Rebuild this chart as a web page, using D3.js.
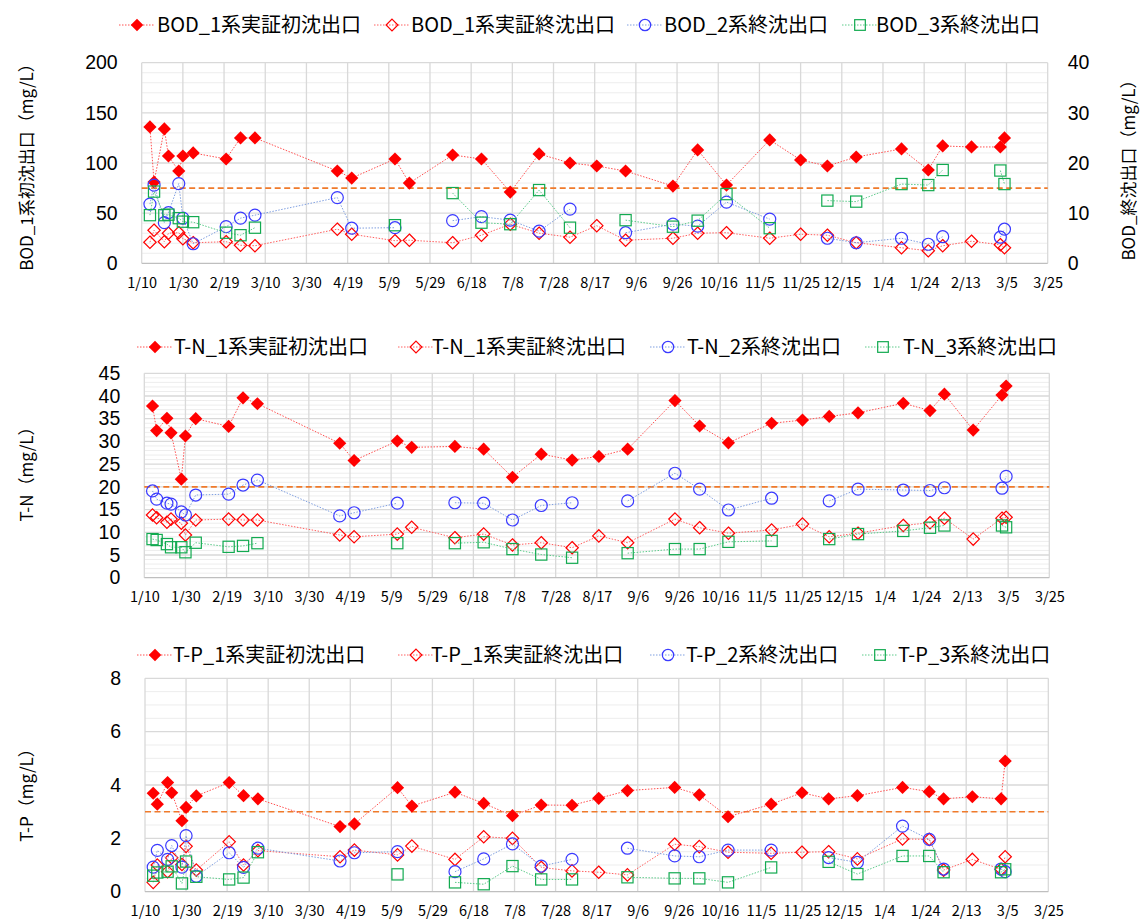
<!DOCTYPE html>
<html><head><meta charset="utf-8">
<script src="https://cdn.jsdelivr.net/npm/d3@7"></script>
<style>body{margin:0;background:#fff} svg{display:block}</style>
</head><body><svg id="c" width="1142" height="920"></svg>
<script>
// ---------- data ----------
const sampleDates = ["2020-01-14","2020-01-16","2020-01-21","2020-01-23","2020-01-28","2020-01-30","2020-02-04",
  "2020-02-20","2020-02-27","2020-03-05","2020-04-14","2020-04-21","2020-05-12","2020-05-19","2020-06-09",
  "2020-06-23","2020-07-07","2020-07-21","2020-08-05","2020-08-18","2020-09-01","2020-09-24","2020-10-06",
  "2020-10-20","2020-11-10","2020-11-25","2020-12-08","2020-12-22","2021-01-13","2021-01-26","2021-02-02",
  "2021-02-16","2021-03-02","2021-03-04"];
const xStart = "2020-01-10";
const xEnd = "2021-03-25";
const xTickLabels = ["1/10","1/30","2/19","3/10","3/30","4/19","5/9","5/29","6/18","7/8","7/28","8/17",
  "9/6","9/26","10/16","11/5","11/25","12/15","1/4","1/24","2/13","3/5","3/25"];

// BOD
const bodInitial1 = [136,81,134,107,92,107,110,104,125,125,92,85,104,80,108,104,71,109,100,97,92,77,113,78,123,103,97,106,114,93,117,116,116,125];
const bodFinal1 = [4.2,6.6,4.3,6.0,6.1,4.9,4.1,4.3,3.6,3.5,6.8,5.8,4.5,4.6,4.1,5.6,7.8,6.0,5.2,7.5,4.6,5.0,6.0,6.1,5.0,5.8,5.6,4.1,3.1,2.5,3.5,4.4,3.7,3.1];
const bodFinal2 = [11.8,15.6,8.1,10.1,15.9,9.0,3.9,7.3,9.0,9.6,13.1,7.0,7.1,null,8.5,9.3,8.6,6.4,10.8,null,6.1,7.8,7.4,12.2,8.8,null,5.0,4.1,5.0,3.8,5.3,null,5.2,6.8];
const bodFinal3 = [9.6,14.3,9.6,9.7,9.0,8.3,8.2,6.1,5.6,7.1,null,null,7.6,null,14.0,8.1,7.8,14.6,7.1,null,8.6,7.3,8.5,13.8,7.0,null,12.5,12.3,15.8,15.6,18.6,null,18.5,15.8];
// T-N
const tnInitial1 = [37.8,32.4,35.1,31.9,21.7,31.2,35.0,33.3,39.6,38.3,29.6,25.8,30.1,28.7,28.9,28.3,22.1,27.2,25.9,26.7,28.3,39.0,33.4,29.7,34.0,34.7,35.5,36.3,38.4,36.8,40.4,32.5,40.2,42.2];
const tnFinal1 = [13.8,13.2,12.2,12.9,12.0,9.4,12.7,12.9,12.7,12.7,9.4,9.0,9.6,11.1,8.8,9.6,7.2,7.7,6.6,9.2,7.7,12.9,11.0,9.8,10.5,11.8,9.0,9.8,11.5,12.1,13.1,8.5,13.1,13.3];
const tnFinal2 = [19.1,17.3,16.4,16.2,14.5,13.8,18.2,18.4,20.4,21.5,13.6,14.3,16.4,null,16.5,16.4,12.7,15.9,16.5,null,16.9,23.0,19.5,14.9,17.5,null,16.9,19.5,19.3,19.2,19.8,null,19.7,22.3];
const tnFinal3 = [8.5,8.3,7.4,6.7,6.7,5.6,7.7,6.8,7.0,7.6,null,null,7.6,null,7.6,7.8,6.3,5.1,4.4,null,5.4,6.3,6.3,7.9,8.1,null,8.5,9.6,10.3,11.0,11.5,null,11.5,11.1];
// T-P
const tpInitial1 = [3.69,3.28,4.09,3.71,2.66,3.16,3.59,4.09,3.6,3.48,2.44,2.54,3.9,3.21,3.73,3.31,2.85,3.25,3.24,3.5,3.79,3.91,3.63,2.81,3.28,3.71,3.48,3.6,3.91,3.75,3.48,3.56,3.48,4.9];
const tpFinal1 = [0.35,1.0,0.75,1.27,1.02,1.7,0.81,1.87,1.0,1.54,1.31,1.56,1.38,1.71,1.21,2.06,2.0,0.91,0.78,0.73,0.63,1.78,1.69,1.48,1.44,1.48,1.5,1.23,1.98,1.96,0.81,1.21,0.84,1.31];
const tpFinal2 = [0.92,1.55,1.21,1.73,0.92,2.1,0.58,1.46,0.91,1.63,1.15,1.46,1.5,null,0.75,1.23,1.79,0.96,1.21,null,1.63,1.34,1.31,1.56,1.56,null,1.28,1.1,2.46,1.96,0.85,null,0.85,0.75];
const tpFinal3 = [0.6,0.72,0.75,0.95,0.31,1.13,0.56,0.46,0.53,1.48,null,null,0.65,null,0.35,0.28,0.96,0.46,0.46,null,0.54,0.5,0.5,0.35,0.91,null,1.12,0.66,1.34,1.34,0.73,null,0.73,0.84];

const bodNames = ["BOD_1系実証初沈出口","BOD_1系実証終沈出口","BOD_2系終沈出口","BOD_3系終沈出口"];
const tnNames = ["T-N_1系実証初沈出口","T-N_1系実証終沈出口","T-N_2系終沈出口","T-N_3系終沈出口"];
const tpNames = ["T-P_1系実証初沈出口","T-P_1系実証終沈出口","T-P_2系終沈出口","T-P_3系終沈出口"];

const bodLeftTicks = [0,50,100,150,200];
const bodRightTicks = [0,10,20,30,40];
const tnTicks = [0,5,10,15,20,25,30,35,40,45];
const tpTicks = [0,2,4,6,8];

const bodLeftTitle = "BOD_1系初沈出口（mg/L）";
const bodRightTitle = "BOD_終沈出口（mg/L）";
const tnTitle = "T-N（mg/L）";
const tpTitle = "T-P（mg/L）";

const bodLimit = 75, tnLimit = 20, tpLimit = 3;

// ---------- drawing ----------
const FONT = "'Noto Sans CJK JP','Noto Sans',sans-serif";
const NUMFONT = "'Liberation Sans',Arial,sans-serif";
const svg = d3.select("#c");
const parse = d3.utcParse("%Y-%m-%d");
const dates = sampleDates.map(parse);
const x0 = parse(xStart), x1 = parse(xEnd);
const xTickVals = xTickLabels.map((_, i) => d3.utcDay.offset(x0, 20 * i));

const styles = [
  {shape:"diamondFilled", color:"#FF0000", line:"#FF5050"},
  {shape:"diamond", color:"#FF0000", line:"#FF6060"},
  {shape:"circle", color:"#3A3AFF", line:"#7F9FE0"},
  {shape:"square", color:"#12AA50", line:"#5CCB8A"}
];

function marker(g, shape, color, cx, cy, s) {
  s = s || 1;
  if (shape === "diamondFilled") {
    const h = 6.6 * s;
    g.append("path").attr("d", `M${cx},${cy-h}L${cx+h},${cy}L${cx},${cy+h}L${cx-h},${cy}Z`).attr("fill", color);
  } else if (shape === "diamond") {
    const h = 6.2 * s;
    g.append("path").attr("d", `M${cx},${cy-h}L${cx+h},${cy}L${cx},${cy+h}L${cx-h},${cy}Z`)
      .attr("fill", "none").attr("stroke", color).attr("stroke-width", 1.2);
  } else if (shape === "circle") {
    g.append("circle").attr("cx", cx).attr("cy", cy).attr("r", 6 * s)
      .attr("fill", "none").attr("stroke", color).attr("stroke-width", 1.2);
  } else {
    const h = 5.6 * s;
    g.append("rect").attr("x", cx - h).attr("y", cy - h).attr("width", 2 * h).attr("height", 2 * h)
      .attr("fill", "none").attr("stroke", color).attr("stroke-width", 1.2);
  }
}

const panels = [
  {box:{l:141.7,r:1047.7,t:62.7,b:263.3}, left:{ticks:bodLeftTicks, minor:10}, right:{ticks:bodRightTicks},
   series:[bodInitial1,bodFinal1,bodFinal2,bodFinal3], axisOf:["L","R","R","R"], names:bodNames, limit:bodLimit,
   title:bodLeftTitle, titleCy:163, rTitle:bodRightTitle, rTitleCy:166,
   legendY:25, legendMx:[137,392,645,860], legendTx:[157,411,664,876]},
  {box:{l:144.3,r:1049.3,t:373.3,b:577.7}, left:{ticks:tnTicks, minor:1},
   series:[tnInitial1,tnFinal1,tnFinal2,tnFinal3], axisOf:["L","L","L","L"], names:tnNames, limit:tnLimit,
   title:tnTitle, titleCy:470,
   legendY:347, legendMx:[155,416,668,883], legendTx:[174,432,687,903]},
  {box:{l:145,r:1048.3,t:678.3,b:891.7}, left:{ticks:tpTicks, minor:0.5},
   series:[tpInitial1,tpFinal1,tpFinal2,tpFinal3], axisOf:["L","L","L","L"], names:tpNames, limit:tpLimit,
   title:tpTitle, titleCy:791,
   legendY:655, legendMx:[155,416,668,880], legendTx:[173,431,686,898]}
];

panels.forEach(p => {
  const B = p.box;
  const g = svg.append("g");
  const x = d3.scaleUtc().domain([x0, x1]).range([B.l, B.r]);
  const yL = d3.scaleLinear().domain(d3.extent(p.left.ticks)).range([B.b, B.t]);
  const yR = p.right ? d3.scaleLinear().domain(d3.extent(p.right.ticks)).range([B.b, B.t]) : yL;

  // minor horizontal gridlines
  const maxV = d3.max(p.left.ticks);
  const minor = d3.range(0, maxV + 1e-9, p.left.minor).filter(v => !p.left.ticks.some(t => Math.abs(t - v) < 1e-9));
  g.selectAll(".mn").data(minor).join("line")
    .attr("x1", B.l).attr("x2", B.r).attr("y1", d => yL(d)).attr("y2", d => yL(d))
    .attr("stroke", "#EDEDED").attr("stroke-width", 1);
  // vertical gridlines
  g.selectAll(".vg").data(xTickVals).join("line")
    .attr("x1", d => x(d)).attr("x2", d => x(d)).attr("y1", B.t).attr("y2", B.b)
    .attr("stroke", "#D9D9D9").attr("stroke-width", 1.3);
  // major horizontal gridlines
  g.selectAll(".mj").data(p.left.ticks).join("line")
    .attr("x1", B.l).attr("x2", B.r).attr("y1", d => yL(d)).attr("y2", d => yL(d))
    .attr("stroke", d => d === 0 ? "#BFBFBF" : "#D9D9D9").attr("stroke-width", 1.3);

  // x axis
  const xa = g.append("g").attr("transform", `translate(0,${B.b})`)
    .call(d3.axisBottom(x).tickValues(xTickVals).tickFormat((d, i) => xTickLabels[i]).tickSize(0).tickPadding(14));
  xa.select(".domain").remove();
  xa.selectAll("text").attr("font-family", FONT).attr("font-size", 14.5).attr("fill", "#000");

  // left axis
  const ya = g.append("g").attr("transform", `translate(${B.l - 24},0)`)
    .call(d3.axisLeft(yL).tickValues(p.left.ticks).tickSize(0).tickPadding(0));
  ya.select(".domain").remove();
  ya.selectAll("text").attr("font-family", NUMFONT).attr("font-size", 19.5).attr("fill", "#000");
  if (p.right) {
    const yra = g.append("g").attr("transform", `translate(${B.r + 20},0)`)
      .call(d3.axisRight(yR).tickValues(p.right.ticks).tickSize(0).tickPadding(0));
    yra.select(".domain").remove();
    yra.selectAll("text").attr("font-family", NUMFONT).attr("font-size", 19.5).attr("fill", "#000");
  }

  // limit line
  g.append("line").attr("x1", B.l).attr("x2", B.r).attr("y1", yL(p.limit)).attr("y2", yL(p.limit))
    .attr("stroke", "#F07A2A").attr("stroke-width", 1.6).attr("stroke-dasharray", "6,3.5");

  // series
  p.series.forEach((vals, si) => {
    const st = styles[si];
    const y = p.axisOf[si] === "L" ? yL : yR;
    const pts = dates.map((d, i) => ({d, v: vals[i]}));
    const line = d3.line().defined(d => d.v != null).x(d => x(d.d)).y(d => y(d.v));
    g.append("path").attr("d", line(pts)).attr("fill", "none").attr("stroke", st.line)
      .attr("stroke-width", 1).attr("stroke-dasharray", "1.5,1.5");
    const mg = g.append("g");
    pts.filter(d => d.v != null).forEach(d => marker(mg, st.shape, st.color, x(d.d), y(d.v)));
  });

  // legend
  p.names.forEach((name, i) => {
    const st = styles[i];
    const lg = g.append("g");
    const mx = p.legendMx[i], ly = p.legendY;
    lg.append("line").attr("x1", mx - 18).attr("x2", mx + 18).attr("y1", ly).attr("y2", ly)
      .attr("stroke", st.line).attr("stroke-width", 1).attr("stroke-dasharray", "1.5,1.5");
    marker(lg, st.shape, st.color, mx, ly, 0.95);
    lg.append("text").attr("x", p.legendTx[i]).attr("y", ly).attr("dy", "0.35em")
      .attr("font-family", FONT).attr("font-size", 20).attr("fill", "#000").text(name);
  });

  // titles
  g.append("text").attr("transform", `translate(27,${p.titleCy}) rotate(-90)`).attr("text-anchor", "middle")
    .attr("dy", "0.35em").attr("font-family", FONT).attr("font-size", 17).attr("fill", "#000").text(p.title);
  if (p.rTitle) {
    g.append("text").attr("transform", `translate(1129,${p.rTitleCy}) rotate(-90)`).attr("text-anchor", "middle")
      .attr("dy", "0.35em").attr("font-family", FONT).attr("font-size", 17).attr("fill", "#000").text(p.rTitle);
  }
});
</script></body></html>
